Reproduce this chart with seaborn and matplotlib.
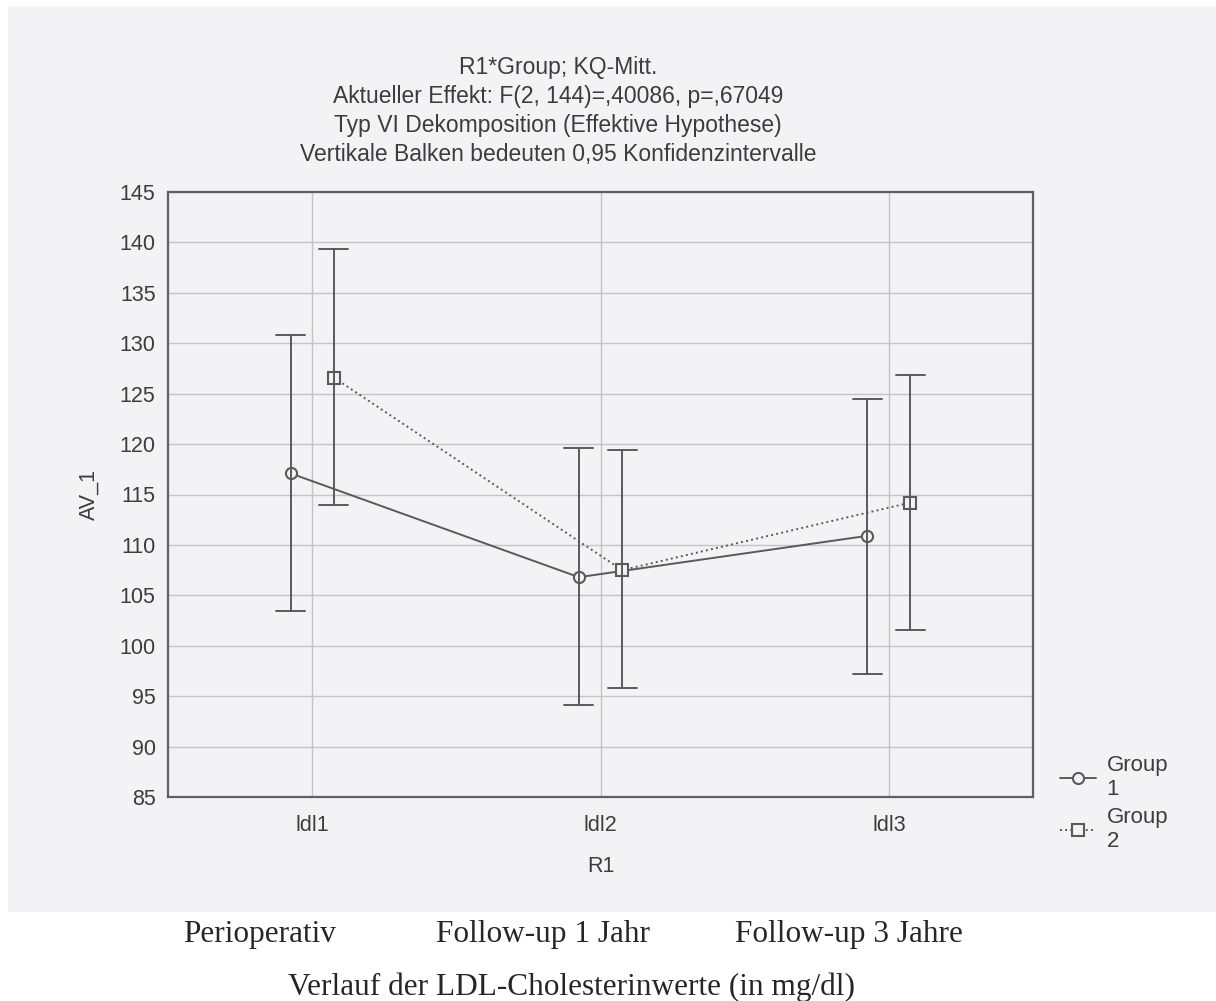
import pandas as pd
import seaborn as sns
import matplotlib.pyplot as plt
from matplotlib.patches import Rectangle

# Werte (Mittelwert und 95%-KI)
zeitpunkte = ["ldl1", "ldl2", "ldl3"]
gruppen = ["Group 1", "Group 2"]
mittel_g1 = [117.1, 106.8, 110.9]
unten_g1 = [103.4, 94.1, 97.2]
oben_g1 = [130.8, 119.6, 124.5]
mittel_g2 = [126.6, 107.5, 114.2]
unten_g2 = [114.0, 95.8, 101.6]
oben_g2 = [139.3, 119.4, 126.9]
y_ticks = list(range(85, 150, 5))

# Tabelle: pro Zelle untere Grenze, Mittelwert, obere Grenze
rows = []
for grp, m, lo, hi in [(gruppen[0], mittel_g1, unten_g1, oben_g1),
                       (gruppen[1], mittel_g2, unten_g2, oben_g2)]:
    for t, a, b, c in zip(zeitpunkte, lo, m, hi):
        for v in (a, b, c):
            rows.append({"R1": t, "Group": grp, "AV_1": v})
df = pd.DataFrame(rows)

sns.set_style("white")
plt.rcParams["font.family"] = ["Liberation Sans", "DejaVu Sans"]

W, H = 1216, 1001
fig = plt.figure(figsize=(W / 100, H / 100), dpi=100)
fig.patch.set_facecolor("white")
bg = "#f3f3f5"
fig.patches.append(Rectangle((8 / W, 1 - 912 / H), 1 - 8 / W, (912 - 6) / H,
                             transform=fig.transFigure, facecolor=bg,
                             edgecolor="none", zorder=-5))

ax = fig.add_axes([168 / W, 1 - 797 / H, (1033 - 168) / W, (797 - 192) / H])
ax.set_facecolor(bg)

linie = "#5a5a5a"
sns.pointplot(data=df, x="R1", y="AV_1", hue="Group", order=zeitpunkte,
              hue_order=gruppen, estimator="median",
              errorbar=lambda v: (v.min(), v.max()),
              palette=[linie, linie], markers=["o", "s"], linestyles=["-", ":"],
              dodge=0.15, capsize=0.1, linewidth=1.4,
              err_kws={"linewidth": 1.4},
              markersize=8, markerfacecolor=bg, markeredgewidth=1.5,
              ax=ax)

ax.set_xlim(-0.5, 2.5)
ax.set_ylim(85, 145)
ax.set_yticks(y_ticks)
ax.grid(True, color="#c4c4c6", linewidth=1)
ax.set_axisbelow(True)
for s in ax.spines.values():
    s.set_color("#606060")
    s.set_linewidth(1.6)

txt = "#3c3c3c"
ax.tick_params(axis="both", length=0, labelsize=15.5, colors=txt)
ax.tick_params(axis="x", pad=13)
ax.tick_params(axis="y", pad=9)
ax.set_xlabel("R1", fontsize=15.5, color=txt, labelpad=14)
ax.set_ylabel("AV_1", fontsize=15.5, color=txt, labelpad=14)

titel = ("R1*Group; KQ-Mitt.\n"
         "Aktueller Effekt: F(2, 144)=,40086, p=,67049\n"
         "Typ VI Dekomposition (Effektive Hypothese)\n"
         "Vertikale Balken bedeuten 0,95 Konfidenzintervalle")
fig.text(558 / W, 1 - 111 / H, titel, ha="center", va="center",
         fontsize=16.5, color=txt, linespacing=1.35)

alt = ax.get_legend()
handles = alt.legend_handles
alt.remove()
fig.legend(handles, ["Group\n1", "Group\n2"], loc="upper left",
           bbox_to_anchor=(1040 / W, 1 - 735 / H), frameon=False,
           fontsize=16, labelcolor=txt, handlelength=1.6, handletextpad=0.5,
           labelspacing=0.3)

# Beschriftung unterhalb der Abbildung
serif = ["Liberation Serif", "DejaVu Serif"]
fig.text(260 / W, 1 - 942 / H, "Perioperativ", ha="center", va="baseline",
         fontsize=22.5, family=serif)
fig.text(543 / W, 1 - 942 / H, "Follow-up 1 Jahr", ha="center", va="baseline",
         fontsize=22.5, family=serif)
fig.text(735 / W, 1 - 942 / H, "Follow-up 3 Jahre", ha="left", va="baseline",
         fontsize=22.5, family=serif)
fig.text(288 / W, 1 - 995 / H, "Verlauf der LDL-Cholesterinwerte (in mg/dl)",
         ha="left", va="baseline", fontsize=22.5, family=serif)

fig.savefig("out.png", dpi=100)
